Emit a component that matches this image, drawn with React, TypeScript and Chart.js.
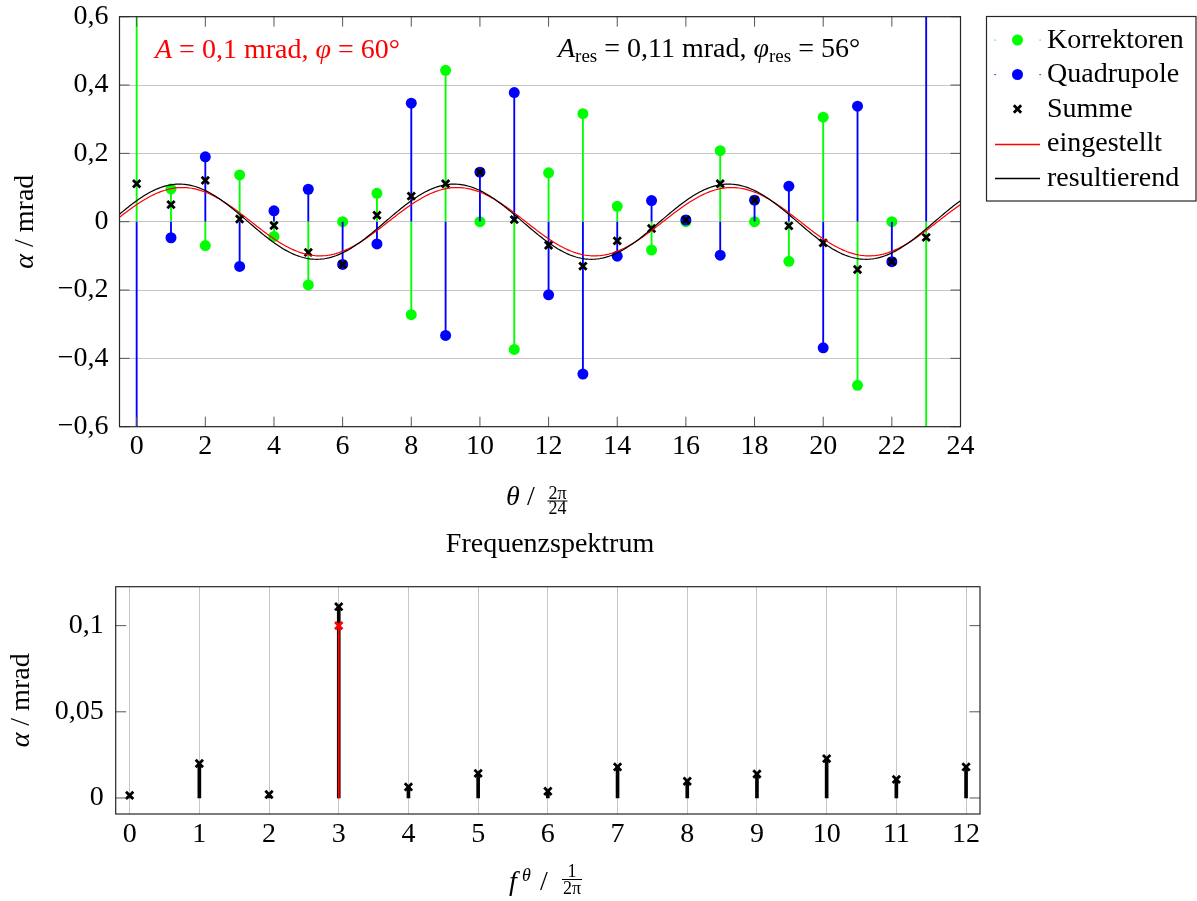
import React, { useEffect, useRef } from "react";
import { Chart, registerables } from "chart.js";

Chart.register(...registerables);

// Positionen der Korrektoren/Quadrupole in Einheiten von 2π/24
const theta = [0, 1, 2, 3, 4, 5, 6, 7, 8, 9, 10, 11, 12, 13, 14, 15, 16, 17, 18, 19, 20, 21, 22, 23];
// Kippwinkel in mrad
const korrektoren = [0.9, 0.096, -0.07, 0.137, -0.043, -0.185, 0.0, 0.083, -0.272, 0.443, 0.0, -0.374, 0.143, 0.316, 0.045, -0.083, 0.0, 0.208, 0.0, -0.116, 0.306, -0.479, 0.0, -0.9];
const quadrupole = [-0.79, -0.047, 0.19, -0.131, 0.032, 0.095, -0.125, -0.065, 0.347, -0.333, 0.145, 0.378, -0.214, -0.446, -0.101, 0.062, 0.005, -0.098, 0.063, 0.104, -0.369, 0.338, -0.117, 0.854];
const summe = [0.111, 0.05, 0.121, 0.008, -0.011, -0.09, -0.125, 0.019, 0.075, 0.111, 0.145, 0.006, -0.069, -0.13, -0.056, -0.02, 0.005, 0.111, 0.063, -0.012, -0.062, -0.14, -0.117, -0.046];

// Harmonische Anregung: eingestellt und resultierend
const HARMONIC = 3;
const A_SET = 0.1;
const PHI_SET = 60;
const A_RES = 0.11;
const PHI_RES = 56;

// Frequenzspektrum
const frequenzen = [0, 1, 2, 3, 4, 5, 6, 7, 8, 9, 10, 11, 12];
const spektrumSumme = [0.0015, 0.02, 0.002, 0.111, 0.0064, 0.0143, 0.0039, 0.018, 0.0097, 0.0139, 0.0228, 0.0108, 0.018];
const spektrumEingestelltF = [HARMONIC];
const spektrumEingestelltA = [A_SET];

const legendLabels = ["Korrektoren", "Quadrupole", "Summe", "eingestellt", "resultierend"];

const FAMILY = '"Liberation Serif", "Times New Roman", Times, serif';
const FS = 28;
const SMALL = 18;
const GREEN = "#00ff00";
const BLUE = "#0000ff";
const RED = "#ff0000";
const GRID = "#c6c6c6";
const AXIS = "#262626";
const MARK_R = 5.5;
const CROSS_R = 5.2;
const CROSS_W = 2.8;

const W = 1197;
const H1 = 525;
const H2 = 376;

const fontStr = (size: number, italic = false) => `${italic ? "italic " : ""}${size}px ${FAMILY}`;
const deNum = (v: number) => String(parseFloat(Math.abs(v).toFixed(4))).replace(".", ",");
const tickFmt = (v: number) => {
  if (Math.abs(v) < 1e-9) return "0";
  return (v < 0 ? "\u2212" : "") + deNum(v);
};

type Run = { t: string; italic?: boolean; size?: number; dy?: number };

function drawRuns(ctx: CanvasRenderingContext2D, runs: Run[], x: number, y: number, align: "left" | "center" = "left") {
  const widths = runs.map((r) => {
    ctx.font = fontStr(r.size ?? FS, r.italic);
    return ctx.measureText(r.t).width;
  });
  const total = widths.reduce((a, b) => a + b, 0);
  let cx = align === "center" ? x - total / 2 : x;
  ctx.textAlign = "left";
  ctx.textBaseline = "alphabetic";
  runs.forEach((r, i) => {
    ctx.font = fontStr(r.size ?? FS, r.italic);
    ctx.fillText(r.t, cx, y + (r.dy ?? 0));
    cx += widths[i];
  });
}

function drawFrac(ctx: CanvasRenderingContext2D, num: string, den: string, cx: number, barY: number, numOff: number, denOff: number) {
  ctx.font = fontStr(SMALL);
  ctx.textAlign = "center";
  ctx.textBaseline = "alphabetic";
  ctx.fillText(num, cx, barY - numOff);
  ctx.fillText(den, cx, barY + denOff);
  const w = Math.max(ctx.measureText(num).width, ctx.measureText(den).width) + 2;
  ctx.fillRect(cx - w / 2, barY - 0.5, w, 1);
}

function drawCross(ctx: CanvasRenderingContext2D, x: number, y: number, h: number, lw: number, color: string) {
  ctx.save();
  ctx.strokeStyle = color;
  ctx.lineWidth = lw;
  ctx.beginPath();
  ctx.moveTo(x - h, y - h);
  ctx.lineTo(x + h, y + h);
  ctx.moveTo(x + h, y - h);
  ctx.lineTo(x - h, y + h);
  ctx.stroke();
  ctx.restore();
}

// Rahmen und nach innen zeigende Ticks
const framePlugin = (xTicks: boolean, yTicks: boolean, len: number) => ({
  id: "frame",
  afterDatasetsDraw(chart: any) {
    const { ctx, chartArea } = chart;
    const { left, right, top, bottom } = chartArea;
    const xs = chart.scales.x;
    const ys = chart.scales.y;
    ctx.save();
    ctx.strokeStyle = "#555";
    ctx.lineWidth = 1;
    ctx.beginPath();
    if (xTicks) {
      xs.ticks.forEach((t: any) => {
        const px = xs.getPixelForValue(t.value);
        ctx.moveTo(px, bottom);
        ctx.lineTo(px, bottom - len);
        ctx.moveTo(px, top);
        ctx.lineTo(px, top + len);
      });
    }
    if (yTicks) {
      ys.ticks.forEach((t: any) => {
        const py = ys.getPixelForValue(t.value);
        ctx.moveTo(left, py);
        ctx.lineTo(left + len, py);
        ctx.moveTo(right, py);
        ctx.lineTo(right - len, py);
      });
    }
    ctx.stroke();
    ctx.strokeStyle = AXIS;
    ctx.lineWidth = 1.2;
    ctx.strokeRect(left, top, right - left, bottom - top);
    ctx.restore();
  },
});

const curveThetas: number[] = [];
for (let i = 0; i <= 490; i++) curveThetas.push(-0.5 + i * 0.05);
const harmonicCurve = (A: number, phiDeg: number) =>
  curveThetas.map((t) => ({ x: t, y: A * Math.cos((2 * Math.PI * HARMONIC * t) / 24 - (phiDeg * Math.PI) / 180) }));

const topTextPlugin = {
  id: "topText",
  afterDraw(chart: any) {
    const ctx: CanvasRenderingContext2D = chart.ctx;
    const area = chart.chartArea;
    ctx.save();
    // Parameter der Anregung
    ctx.fillStyle = RED;
    drawRuns(ctx, [
      { t: "A", italic: true },
      { t: ` = ${deNum(A_SET)} mrad, ` },
      { t: "\u03C6", italic: true },
      { t: ` = ${PHI_SET}\u00B0` },
    ], 155, 57.5);
    ctx.fillStyle = "#000";
    drawRuns(ctx, [
      { t: "A", italic: true },
      { t: "res", size: 19, dy: 5 },
      { t: ` = ${deNum(A_RES)} mrad, ` },
      { t: "\u03C6", italic: true },
      { t: "res", size: 19, dy: 5 },
      { t: ` = ${PHI_RES}\u00B0` },
    ], 558, 57);

    // Achsentitel
    ctx.save();
    ctx.translate(33, (area.top + area.bottom) / 2);
    ctx.rotate(-Math.PI / 2);
    drawRuns(ctx, [{ t: "\u03B1", italic: true }, { t: " / mrad" }], 0, 0, "center");
    ctx.restore();

    ctx.font = fontStr(FS, true);
    ctx.textAlign = "left";
    ctx.fillText("\u03B8", 506, 505);
    ctx.font = fontStr(FS);
    ctx.fillText("/", 527, 505);
    drawFrac(ctx, "2\u03C0", "24", 557.5, 501, 2.5, 13);

    // Legende
    const bx = 986.5, by = 16.5, bw = 209.5, bh = 184.5;
    ctx.fillStyle = "#fff";
    ctx.fillRect(bx, by, bw, bh);
    ctx.strokeStyle = AXIS;
    ctx.lineWidth = 1.2;
    ctx.strokeRect(bx, by, bw, bh);
    legendLabels.forEach((label, i) => {
      const base = 47.5 + 34.5 * i;
      const my = base - 7.5;
      if (i < 2) {
        const c = i === 0 ? GREEN : BLUE;
        ctx.fillStyle = c;
        ctx.fillRect(994.5, my - 0.5, 1.2, 1.2);
        ctx.fillRect(1039.5, my - 0.5, 1.2, 1.2);
        ctx.beginPath();
        ctx.arc(1017.5, my, MARK_R, 0, Math.PI * 2);
        ctx.fill();
      } else if (i === 2) {
        drawCross(ctx, 1017.5, my, CROSS_R * Math.SQRT1_2, CROSS_W, "#000");
      } else {
        ctx.strokeStyle = i === 3 ? RED : "#000";
        ctx.lineWidth = 1.3;
        ctx.beginPath();
        ctx.moveTo(995, Math.round(my) + 0.5);
        ctx.lineTo(1040, Math.round(my) + 0.5);
        ctx.stroke();
      }
      ctx.fillStyle = "#000";
      ctx.font = fontStr(FS);
      ctx.textAlign = "left";
      ctx.fillText(label, 1047, base);
    });
    ctx.restore();
  },
};

const bottomTextPlugin = {
  id: "bottomText",
  afterDraw(chart: any) {
    const ctx: CanvasRenderingContext2D = chart.ctx;
    const area = chart.chartArea;
    ctx.save();
    ctx.fillStyle = "#000";
    ctx.font = fontStr(FS);
    ctx.textAlign = "center";
    ctx.textBaseline = "alphabetic";
    ctx.fillText("Frequenzspektrum", 550, 27);

    ctx.save();
    ctx.translate(29.3, (area.top + area.bottom) / 2);
    ctx.rotate(-Math.PI / 2);
    drawRuns(ctx, [{ t: "\u03B1", italic: true }, { t: " / mrad" }], 0, 0, "center");
    ctx.restore();

    ctx.textAlign = "left";
    ctx.font = fontStr(FS, true);
    ctx.fillText("f", 509, 365);
    ctx.font = fontStr(SMALL, true);
    ctx.fillText("\u03B8", 522, 355.5);
    ctx.font = fontStr(FS);
    ctx.fillText("/", 540, 365);
    drawFrac(ctx, "1", "2\u03C0", 572, 354.5, 3, 14.5);
    ctx.restore();
  },
};

const tickFont = { family: FAMILY, size: FS, lineHeight: 1.2 };

function topConfig(): any {
  const pts = (ys: number[]) => theta.map((t, i) => ({ x: t, y: ys[i] }));
  const datasets: any[] = [
    { type: "bar", label: "Korrektoren", data: pts(korrektoren), backgroundColor: GREEN, barThickness: 1.2, grouped: false, borderWidth: 0, clip: 0 },
    { type: "scatter", label: "Korrektoren", data: pts(korrektoren), pointRadius: MARK_R, pointBackgroundColor: GREEN, pointBorderWidth: 0 },
    { type: "bar", label: "Quadrupole", data: pts(quadrupole), backgroundColor: BLUE, barThickness: 1.2, grouped: false, borderWidth: 0, clip: 0 },
    { type: "scatter", label: "Quadrupole", data: pts(quadrupole), pointRadius: MARK_R, pointBackgroundColor: BLUE, pointBorderWidth: 0 },
    { type: "scatter", label: "Summe", data: pts(summe), pointStyle: "crossRot", pointRadius: CROSS_R, pointBorderWidth: CROSS_W, pointBorderColor: "#000" },
    { type: "line", label: "eingestellt", data: harmonicCurve(A_SET, PHI_SET), borderColor: RED, borderWidth: 1.2, pointRadius: 0, fill: false, tension: 0 },
    { type: "line", label: "resultierend", data: harmonicCurve(A_RES, PHI_RES), borderColor: "#000", borderWidth: 1.2, pointRadius: 0, fill: false, tension: 0 },
  ];
  datasets.forEach((d, i) => (d.order = -i));
  return {
    type: "scatter",
    data: { datasets },
    options: {
      animation: false,
      responsive: false,
      devicePixelRatio: 1,
      events: [],
      layout: { padding: { left: 0, top: 16.7, right: W - 960.5, bottom: 0 } },
      plugins: { legend: { display: false }, tooltip: { enabled: false }, title: { display: false } },
      scales: {
        x: {
          type: "linear",
          min: -0.5,
          max: 24,
          offset: false,
          grid: { display: false, drawTicks: false, offset: false },
          border: { display: false },
          ticks: { stepSize: 2, includeBounds: false, autoSkip: false, maxRotation: 0, padding: 3.5, font: tickFont, color: "#000", callback: (v: number) => tickFmt(v) },
          afterFit: (s: any) => { s.height = H1 - 426.7; s.paddingLeft = 0; s.paddingRight = 0; },
        },
        y: {
          type: "linear",
          min: -0.6,
          max: 0.6,
          grid: { color: GRID, lineWidth: 1, drawTicks: false, offset: false },
          border: { display: false },
          ticks: { stepSize: 0.2, includeBounds: false, padding: 11, font: tickFont, color: "#000", callback: (v: number) => tickFmt(v) },
          afterFit: (s: any) => { s.width = 119.5; s.paddingTop = 0; s.paddingBottom = 0; },
        },
      },
    },
    plugins: [framePlugin(true, true, 10), topTextPlugin],
  };
}

function bottomConfig(): any {
  const datasets: any[] = [
    { type: "bar", label: "Summe", data: frequenzen.map((f, i) => ({ x: f, y: spektrumSumme[i] })), backgroundColor: "#000", barThickness: 3, grouped: false, borderWidth: 0, clip: 0 },
    { type: "bar", label: "eingestellt", data: spektrumEingestelltF.map((f, i) => ({ x: f, y: spektrumEingestelltA[i] })), backgroundColor: RED, barThickness: 1.2, grouped: false, borderWidth: 0, clip: 0 },
    { type: "scatter", label: "Summe", data: frequenzen.map((f, i) => ({ x: f, y: spektrumSumme[i] })), pointStyle: "crossRot", pointRadius: CROSS_R, pointBorderWidth: CROSS_W, pointBorderColor: "#000" },
    { type: "scatter", label: "eingestellt", data: spektrumEingestelltF.map((f, i) => ({ x: f, y: spektrumEingestelltA[i] })), pointStyle: "crossRot", pointRadius: CROSS_R, pointBorderWidth: CROSS_W, pointBorderColor: RED },
  ];
  datasets.forEach((d, i) => (d.order = -i));
  return {
    type: "scatter",
    data: { datasets },
    options: {
      animation: false,
      responsive: false,
      devicePixelRatio: 1,
      events: [],
      layout: { padding: { left: 0, top: 586.7 - H1, right: W - 980, bottom: 0 } },
      plugins: { legend: { display: false }, tooltip: { enabled: false }, title: { display: false } },
      scales: {
        x: {
          type: "linear",
          min: -0.2,
          max: 12.2,
          offset: false,
          grid: { color: GRID, lineWidth: 1, drawTicks: false, offset: false },
          border: { display: false },
          ticks: { stepSize: 1, includeBounds: false, autoSkip: false, maxRotation: 0, padding: 4.2, font: tickFont, color: "#000", callback: (v: number) => tickFmt(v) },
          afterFit: (s: any) => { s.height = H1 + H2 - 814; s.paddingLeft = 0; s.paddingRight = 0; },
        },
        y: {
          type: "linear",
          min: -0.0093,
          max: 0.1226,
          grid: { display: false, drawTicks: false, offset: false },
          border: { display: false },
          ticks: { stepSize: 0.05, includeBounds: false, padding: 12, font: tickFont, color: "#000", callback: (v: number) => tickFmt(v) },
          afterFit: (s: any) => { s.width = 115.7; s.paddingTop = 0; s.paddingBottom = 0; },
        },
      },
    },
    plugins: [framePlugin(false, true, 10.5), bottomTextPlugin],
  };
}

export default function App() {
  const topRef = useRef<HTMLCanvasElement>(null);
  const bottomRef = useRef<HTMLCanvasElement>(null);

  useEffect(() => {
    const c1 = new Chart(topRef.current as HTMLCanvasElement, topConfig());
    const c2 = new Chart(bottomRef.current as HTMLCanvasElement, bottomConfig());
    return () => {
      c1.destroy();
      c2.destroy();
    };
  }, []);

  return (
    <div style={{ position: "absolute", left: 0, top: 0, width: W, height: H1 + H2, background: "#fff" }}>
      <canvas ref={topRef} width={W} height={H1} style={{ position: "absolute", left: 0, top: 0, display: "block" }} />
      <canvas ref={bottomRef} width={W} height={H2} style={{ position: "absolute", left: 0, top: H1, display: "block" }} />
    </div>
  );
}
